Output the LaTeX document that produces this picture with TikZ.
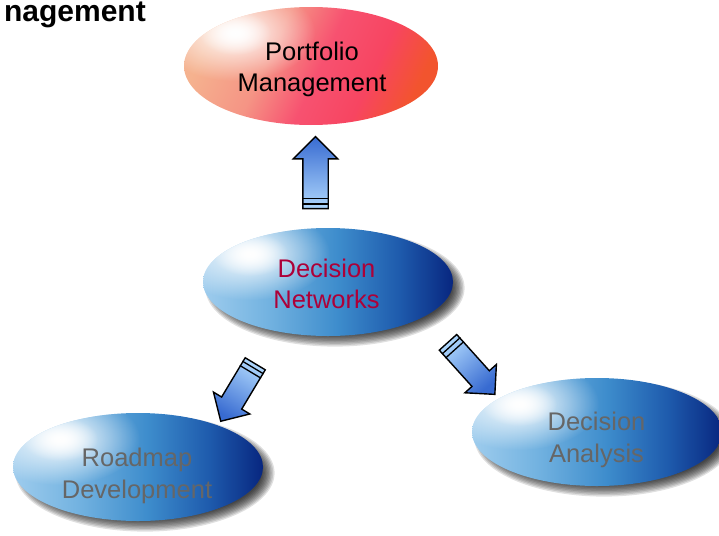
\documentclass[tikz,border=0pt]{standalone}
\usepackage{fontspec}
\setmainfont{Liberation Sans}
\usetikzlibrary{shapes.geometric,shapes.arrows,fadings,backgrounds,calc}

\pgfdeclarehorizontalshading{bluesh}{100bp}{rgb(0bp)=(0.62,0.80,0.93); rgb(25bp)=(0.62,0.80,0.93); rgb(38bp)=(0.45,0.70,0.88); rgb(52bp)=(0.24,0.55,0.80); rgb(64bp)=(0.12,0.36,0.68); rgb(75bp)=(0.03,0.15,0.50); rgb(100bp)=(0.03,0.15,0.50)}
\pgfdeclarehorizontalshading{pinksh}{100bp}{rgb(0bp)=(0.96,0.70,0.56); rgb(25bp)=(0.96,0.70,0.56); rgb(40bp)=(0.96,0.58,0.52); rgb(52bp)=(0.97,0.32,0.44); rgb(64bp)=(0.97,0.27,0.38); rgb(75bp)=(0.95,0.33,0.18); rgb(100bp)=(0.95,0.33,0.18)}
\tikzfading[name=glowfade, inner color=transparent!0, outer color=transparent!100]

\definecolor{arrowlight}{rgb}{0.68,0.84,0.99}
\definecolor{arrowdark}{rgb}{0.22,0.42,0.82}
\definecolor{dnred}{rgb}{0.68,0.0,0.22}
\definecolor{txtgray}{rgb}{0.40,0.40,0.40}

\tikzset{
  ell/.style={ellipse, inner sep=0pt},
  blueell/.style={ell, minimum width=250pt, minimum height=108pt, path picture={
    \shade[shading=bluesh] (path picture bounding box.south west) rectangle (path picture bounding box.north east);
    \fill[white, path fading=glowfade] ($(path picture bounding box.center)+(-78,-28)$) ellipse (80 and 46);
    \fill[white, path fading=glowfade] ($(path picture bounding box.center)+(-78,-28)$) ellipse (38 and 22);
  }},
  pinkell/.style={ell, minimum width=254pt, minimum height=118pt, path picture={
    \shade[shading=pinksh, shading angle=-25] (path picture bounding box.south west) rectangle (path picture bounding box.north east);
    \fill[white, path fading=glowfade] ($(path picture bounding box.center)+(-76,-33)$) ellipse (80 and 48);
    \fill[white, path fading=glowfade] ($(path picture bounding box.center)+(-76,-33)$) ellipse (36 and 22);
  }},
  lbl/.style={align=center, inner sep=0pt, font=\fontsize{25.5}{31.5}\selectfont},
  blockarrow/.style={single arrow, draw=black, line width=1.4pt,
    single arrow head extend=9.5pt, single arrow tip angle=90, inner xsep=0pt, inner ysep=12pt,
    shading=axis, bottom color=arrowlight, top color=arrowdark, rotate=#1, shading angle=#1-90},
  stripe/.style={line width=1.3pt, black},
}

\begin{document}
\begin{tikzpicture}[x=1pt,y=-1pt]
\useasboundingbox (0,0) rectangle (719,535);

% title (as printed, cut at the left edge)
\node[font=\fontsize{30}{31}\selectfont\bfseries, anchor=base east, inner sep=0pt] (title) at (146,21.5) {nagement};

% ellipses
\node[pinkell] (pm) at (311,66) {};
\node[blueell] (dn) at (328,282) {};
\node[blueell] (rd) at (138,467) {};
\node[blueell] (da) at (597,432) {};

% shadows
\begin{scope}[on background layer]
\foreach \n in {dn,rd,da}{
  \foreach \i in {0,...,9}{
    \fill[black,opacity=0.12] ([shift={(7,6)}]\n.center) ellipse ({117+1.4*\i} and {46+1.4*\i});
  }
}
\end{scope}

% labels
\node[lbl, text=black] (pmt) at (312,69.5) {Portfolio\\Management};
\node[lbl, text=dnred] (dnt) at (326.5,284) {Decision\\Networks};
\node[lbl, text=txtgray] (rdt) at (137,476) {Roadmap\\Development};
\node[lbl, text=txtgray] (dat) at (596.5,440) {Decision\\Analysis};

% block arrows
\node[blockarrow=90, minimum height=72pt] (ua) at ($(dn)!0.5!(pm)+(-4,5)$) {};
\node[blockarrow=-121, inner ysep=11pt, minimum height=67pt] (la) at ($(dn)!0.5!(rd)+(8,13)$) {};
\node[blockarrow=-48, inner ysep=11pt, minimum height=70pt] (ra) at ($(dn)!0.5!(da)+(5,7)$) {};

\foreach \a in {ua,la,ra}{
  \draw[stripe] ($(\a.before tail)!0.11!(\a.after head)$) -- ($(\a.after tail)!0.11!(\a.before head)$);
  \draw[stripe] ($(\a.before tail)!0.22!(\a.after head)$) -- ($(\a.after tail)!0.22!(\a.before head)$);
}
\end{tikzpicture}
\end{document}
